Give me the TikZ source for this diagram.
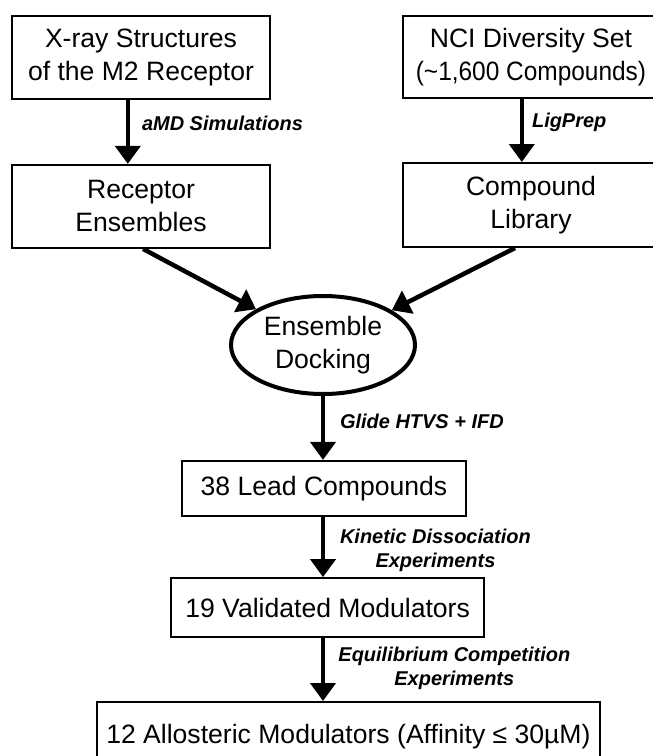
\documentclass[tikz,border=0pt]{standalone}
\usepackage{fontspec}
\setmainfont{Liberation Sans}
\usetikzlibrary{arrows.meta,shapes.geometric}
\tikzset{
    every node/.style={font=\fontsize{18.9}{23.4}\selectfont},
    stage/.style={draw, rectangle, line width=1.4pt, align=center, inner sep=0pt},
    method/.style={font=\fontsize{14.2}{17}\selectfont\bfseries\itshape, align=center, inner sep=0pt},
    flow/.style={-{Triangle[length=0.45cm,width=0.62cm]}, line width=3.2pt}
}

\begin{document}
\begin{tikzpicture}
        \useasboundingbox (0,0) rectangle (16.3,-18.9);
        % inputs
        \node[stage, minimum width=6.45cm, minimum height=2.075cm] (xray) at (3.525,-1.44) {X-ray Structures\\of the M2 Receptor};
        \node[stage, minimum width=6.4cm, minimum height=2.05cm] (nci) at (13.275,-1.425) {NCI Diversity Set\\\scalebox{0.92}[1]{(\textasciitilde1,600 Compounds)}};
        \node[stage, minimum width=6.45cm, minimum height=2.075cm] (receptor) at (3.525,-5.16) {Receptor\\Ensembles};
        \node[stage, minimum width=6.4cm, minimum height=2.1cm] (compound) at (13.275,-5.125) {Compound\\Library};
        % docking and screening
        \node[draw, ellipse, line width=2.85pt, minimum width=4.6cm, minimum height=2.45cm, inner sep=0pt, align=center] (dock) at (8.075,-8.625) {Ensemble\\Docking};
        \node[stage, minimum width=7.1cm, minimum height=1.375cm] (lead) at (8.1,-12.21) {38 Lead Compounds};
        \node[stage, minimum width=7.825cm, minimum height=1.475cm] (valid) at (8.19,-15.19) {19 Validated Modulators};
        \node[stage, minimum width=12.575cm, minimum height=1.75cm] (allo) at (8.71,-18.425) {12 Allosteric Modulators (Affinity ≤ 30µM)};

        \draw[flow] ([xshift=-0.33cm]xray.south) -- node[method, right=0.3cm, pos=0.37] {aMD Simulations} ([xshift=-0.33cm]receptor.north);
        \draw[flow] ([xshift=-0.23cm]nci.south) -- node[method, right=0.2cm, pos=0.37] {LigPrep} ([xshift=-0.23cm]compound.north);
        \draw[flow] ([xshift=0.05cm]receptor.south) -- (dock);
        \draw[flow] ([xshift=-0.4cm]compound.south) -- (dock);
        \draw[flow] (dock.south) -- node[method, right=0.37cm, pos=0.39] {Glide HTVS + IFD} (dock.south |- lead.north);
        \draw[flow] (dock.south |- lead.south) -- node[method, right=0.37cm, pos=0.55] {Kinetic Dissociation\\Experiments} (dock.south |- valid.north);
        \draw[flow] (dock.south |- valid.south) -- node[method, right=0.33cm, pos=0.48] {Equilibrium Competition\\Experiments} (dock.south |- allo.north);
    \end{tikzpicture}
\end{document}
